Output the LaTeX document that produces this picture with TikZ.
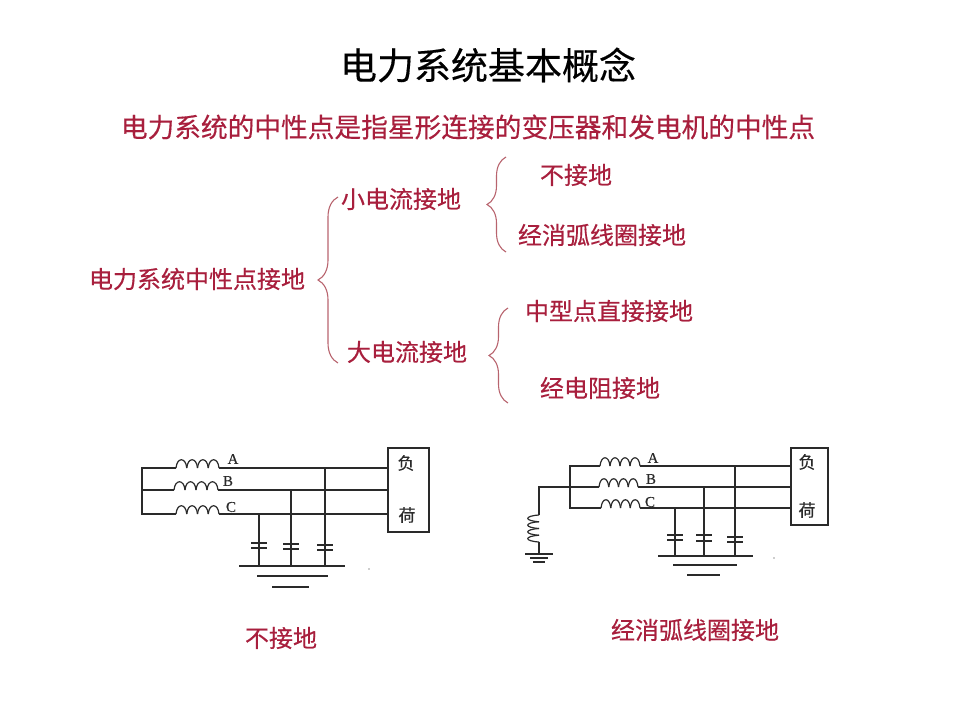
\documentclass[tikz,border=0pt]{standalone}
\usepackage{fontspec}
\setmainfont{Noto Sans CJK SC}[FakeBold=0.35]
\newfontfamily\phasefont{Liberation Serif}[FakeBold=0.3]
\usetikzlibrary{calc,positioning,decorations.pathreplacing}
\definecolor{labelred}{HTML}{A81F3D}
\definecolor{bracered}{HTML}{B8646E}
\definecolor{wiregray}{HTML}{2A2A2A}
\tikzset{
  label24/.style={text=labelred,inner sep=0pt,font=\fontsize{24}{28}\selectfont},
  phase/.style={text=wiregray,inner sep=0pt,font=\phasefont\fontsize{15}{17}\selectfont},
  loadtext/.style={text=wiregray,inner sep=0pt,font=\fontsize{17}{19}\selectfont},
  wire/.style={draw=wiregray,line width=1.2pt},
  treebrace/.style={draw=bracered,line width=1.1pt,decorate,decoration={brace,amplitude=#1}},
  treebrace/.default=20pt
}
\newcommand{\coilh}[3]{\foreach \k in {1,...,4}{\draw[wire] ({#1+(\k-1)*#3},#2) .. controls +(1,-11) and +(-1,-11) .. +(#3,0);}}
\newcommand{\coilv}[3]{\foreach \k in {1,...,4}{\draw[wire] (#1,{#2+(\k-1)*#3}) .. controls +(-15,1) and +(-15,-1) .. +(0,#3);}}
\newcommand{\capv}[4]{\draw[wire] (#1-8,#2) -- (#1+8,#2);\draw[wire] (#1-8,#3) -- (#1+8,#3);\draw[wire] (#1,#2) -- (#1,#4);}
\begin{document}
\begin{tikzpicture}[x=1pt,y=-1pt]
\useasboundingbox (0,0) rectangle (960,720);
\node[inner sep=0pt,font=\fontsize{37}{42}\selectfont] (title) at (488,65) {电力系统基本概念};
\node[label24,font=\fontsize{26.7}{30}\selectfont] (defn) at (468,127) {电力系统的中性点是指星形连接的变压器和发电机的中性点};
\node[label24] (root) at (197,279) {电力系统中性点接地};
\node[label24] (small) at (401,199) {小电流接地};
\node[label24] (large) at (407,352) {大电流接地};
\node[label24] (none) at (576,175) {不接地};
\node[label24] (coil) at (602,235) {经消弧线圈接地};
\node[label24] (direct) at (609,311) {中型点直接接地};
\node[label24] (resist) at (600,388) {经电阻接地};
\draw[treebrace] (338,363) -- (338,197);
\draw[treebrace=19pt] (506,252) -- (506,157);
\draw[treebrace=19pt] (508,403) -- (508,308);

\node[draw=wiregray,line width=1.2pt,minimum width=41pt,minimum height=84pt,inner sep=0pt] (loadL) at (408.5,490) {};
\node[loadtext] (fuL) at (406,463) {负};
\node[loadtext] (heL) at (407,515) {荷};
\node[phase] (aL) at (233,459) {A};
\node[phase] (bL) at (228,481) {B};
\node[phase] (cL) at (231,507) {C};
\coilh{176}{468}{10.75}
\coilh{174}{490}{11}
\coilh{176}{514}{10.75}
\draw[wire] (176,468) -- (142,468) -- (142,514) -- (176,514);
\draw[wire] (142,490) -- (174,490);
\draw[wire] (219,468) -- (loadL.west |- 0,468);
\draw[wire] (218,490) -- (loadL.west |- 0,490);
\draw[wire] (219,514) -- (loadL.west |- 0,514);
\draw[wire] (259,514) -- (259,543);
\draw[wire] (291,490) -- (291,544);
\draw[wire] (325,468) -- (325,545);
\capv{259}{543}{548}{566}
\capv{291}{544}{549}{566}
\capv{325}{545}{550}{566}
\draw[wire] (239,566) -- (345,566);
\draw[wire] (257,576) -- (328,576);
\draw[wire] (272,587) -- (309,587);
\fill[wiregray] (369,569) circle (0.7);
\node[label24] (capL) at (281,638) {不接地};

\node[draw=wiregray,line width=1.2pt,minimum width=37pt,minimum height=77pt,inner sep=0pt] (loadR) at (809.5,486.5) {};
\node[loadtext] (fuR) at (807,462) {负};
\node[loadtext] (heR) at (807,510) {荷};
\node[phase] (aR) at (653,458) {A};
\node[phase] (bR) at (651,479) {B};
\node[phase] (cR) at (650,502) {C};
\coilh{600}{466}{10}
\coilh{599}{487}{9.75}
\coilh{601}{508}{9.75}
\draw[wire] (600,466) -- (570,466) -- (570,508) -- (601,508);
\draw[wire] (539,515) -- (539,487) -- (599,487);
\draw[wire] (640,466) -- (loadR.west |- 0,466);
\draw[wire] (638,487) -- (loadR.west |- 0,487);
\draw[wire] (640,508) -- (loadR.west |- 0,508);
\draw[wire] (675,508) -- (675,535);
\draw[wire] (704,487) -- (704,535);
\draw[wire] (735,466) -- (735,537);
\capv{675}{535}{540}{556}
\capv{704}{535}{541}{556}
\capv{735}{537}{542}{556}
\draw[wire] (658,556) -- (753,556);
\draw[wire] (673,565) -- (737,565);
\draw[wire] (687,575) -- (720,575);
\coilv{539}{515}{6.75}
\draw[wire] (539,542) -- (539,554);
\draw[wire] (525,554) -- (553,554);
\draw[wire] (530,558) -- (548,558);
\draw[wire] (533,562) -- (545,562);
\fill[wiregray] (774,558) circle (0.7);
\node[label24] (capR) at (695,630) {经消弧线圈接地};
\end{tikzpicture}
\end{document}
